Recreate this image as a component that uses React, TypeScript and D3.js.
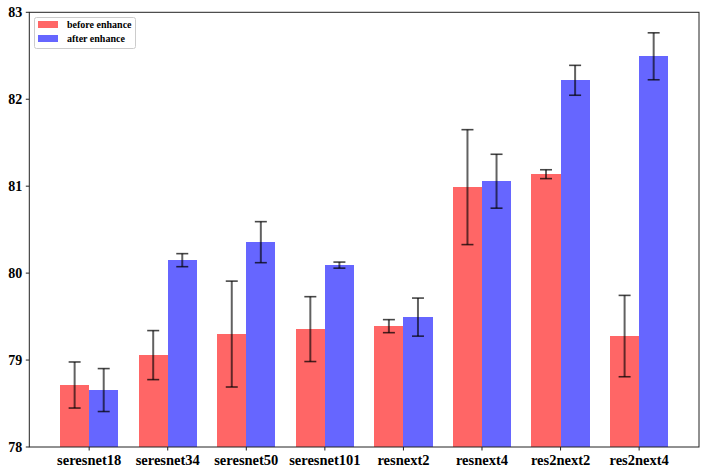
import React from "react";
import * as d3 from "d3";

const categories = ["seresnet18", "seresnet34", "seresnet50", "seresnet101", "resnext2", "resnext4", "res2next2", "res2next4"];
const beforeValues = [78.713, 79.057, 79.299, 79.356, 79.39, 80.989, 81.138, 79.276];
const beforeErrors = [0.265, 0.282, 0.609, 0.373, 0.075, 0.661, 0.051, 0.468];
const afterValues = [78.655, 80.149, 80.356, 80.092, 79.494, 81.057, 82.218, 82.494];
const afterErrors = [0.247, 0.075, 0.236, 0.035, 0.219, 0.31, 0.172, 0.27];
const yTicks = [78, 79, 80, 81, 82, 83];
const seriesNames = ["before enhance", "after enhance"];
const seriesColors = ["#FF6666", "#6666FF"];

const W = 705;
const H = 474;
const left = 29.3;
const right = 699;
const top = 12.3;
const bottom = 447;
const barW = 0.37;

export default function App() {
  const x = d3.scaleLinear().domain([-0.762, 7.762]).range([left, right]);
  const y = d3.scaleLinear().domain([78, 83]).range([bottom, top]);
  const bw = x(barW) - x(0);
  const font = "'Liberation Serif', 'Times New Roman', serif";

  const series = [
    { vals: beforeValues, errs: beforeErrors, off: -barW / 2 },
    { vals: afterValues, errs: afterErrors, off: barW / 2 },
  ];

  return (
    <svg width={W} height={H} style={{ position: "absolute", left: 0, top: 0, background: "#fff" }}>
      <rect x={0} y={0} width={W} height={H} fill="#fff" />
      {series.map((s, si) =>
        s.vals.map((v, i) => (
          <rect
            key={`b${si}-${i}`}
            x={x(i + s.off) - bw / 2}
            y={y(v)}
            width={bw}
            height={y(78) - y(v)}
            fill={seriesColors[si]}
            shapeRendering="crispEdges"
          />
        ))
      )}
      {series.map((s, si) =>
        s.vals.map((v, i) => {
          const cx = x(i + s.off);
          const y1 = y(v + s.errs[i]);
          const y2 = y(v - s.errs[i]);
          return (
            <g key={`e${si}-${i}`}>
              <line x1={cx} x2={cx} y1={y1} y2={y2} stroke="#000" strokeOpacity={0.62} strokeWidth={2} />
              <line x1={cx - 6} x2={cx + 6} y1={y1} y2={y1} stroke="#000" strokeOpacity={0.72} strokeWidth={1.6} />
              <line x1={cx - 6} x2={cx + 6} y1={y2} y2={y2} stroke="#000" strokeOpacity={0.72} strokeWidth={1.6} />
            </g>
          );
        })
      )}
      <rect x={left} y={top} width={right - left} height={bottom - top} fill="none" stroke="#222" strokeWidth={1} />
      {yTicks.map((t) => (
        <g key={`yt${t}`}>
          <line x1={left - 3.5} x2={left} y1={y(t)} y2={y(t)} stroke="#222" strokeWidth={1} />
          <text x={left - 7} y={y(t)} dy="0.35em" textAnchor="end" fontFamily={font} fontWeight="bold" fontSize={14} fill="#000">
            {t}
          </text>
        </g>
      ))}
      {categories.map((c, i) => (
        <g key={`xt${c}`}>
          <line x1={x(i)} x2={x(i)} y1={bottom} y2={bottom + 3.5} stroke="#222" strokeWidth={1} />
          <text x={x(i)} y={465} textAnchor="middle" fontFamily={font} fontWeight="bold" fontSize={14.5} fill="#000">
            {c}
          </text>
        </g>
      ))}
      <g>
        <rect x={34.5} y={17.5} width={101} height={31} rx={2} fill="#fff" fillOpacity={0.8} stroke="#ccc" strokeWidth={1} />
        {seriesNames.map((n, i) => (
          <g key={n}>
            <rect x={38} y={21 + i * 14} width={20} height={7} fill={seriesColors[i]} />
            <text x={67} y={28 + i * 14} fontFamily={font} fontWeight="bold" fontSize={10} fill="#000">
              {n}
            </text>
          </g>
        ))}
      </g>
    </svg>
  );
}
